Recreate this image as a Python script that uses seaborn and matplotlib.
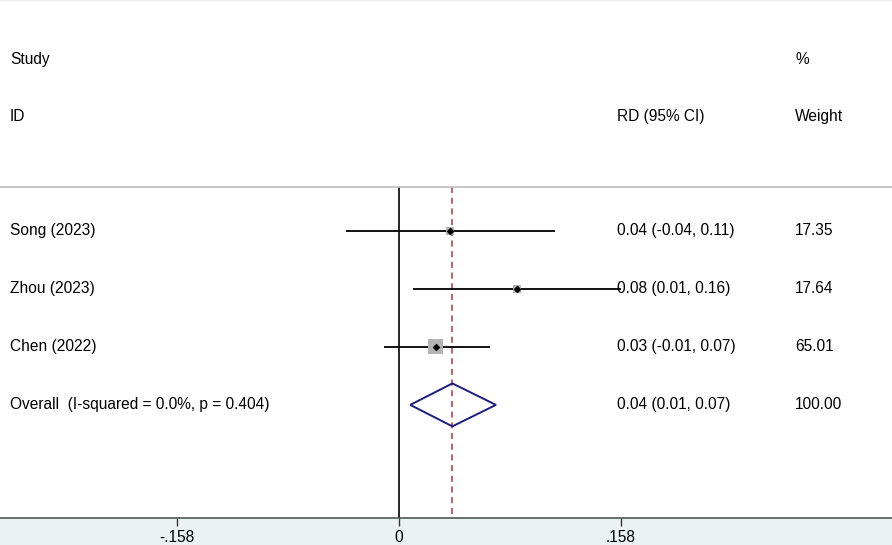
import numpy as np
import pandas as pd
import matplotlib
matplotlib.use('Agg')
import matplotlib.pyplot as plt
import seaborn as sns

# study level data
studies = ['Song (2023)', 'Zhou (2023)', 'Chen (2022)']
rd = [0.036, 0.084, 0.026]
ci_low = [-0.038, 0.010, -0.011]
ci_high = [0.111, 0.158, 0.065]
weights = [17.35, 17.64, 65.01]
rd_labels = ['0.04 (-0.04, 0.11)', '0.08 (0.01, 0.16)', '0.03 (-0.01, 0.07)']
weight_labels = ['17.35', '17.64', '65.01']

overall_label = 'Overall  (I-squared = 0.0%, p = 0.404)'
overall_rd = 0.038
overall_low = 0.008
overall_high = 0.069
overall_rd_label = '0.04 (0.01, 0.07)'
overall_weight_label = '100.00'

xticks = [-0.158, 0, 0.158]
xtick_labels = ['-.158', '0', '.158']

sns.set_theme(style='white')
plt.rcParams['font.family'] = ['Liberation Sans', 'DejaVu Sans']
plt.rcParams['text.color'] = 'black'
plt.rcParams['xtick.color'] = 'black'

df = pd.DataFrame({'study': studies, 'rd': rd, 'lo': ci_low, 'hi': ci_high,
                   'weight': weights, 'row': np.arange(1, len(studies) + 1)})

band = '#eaf2f3'
fig = plt.figure(figsize=(8.92, 5.45), dpi=100, facecolor=band)
ax = fig.add_axes([0, 27 / 545, 1, 518 / 545])
ax.set_facecolor('white')

px_per_unit = 222 / 0.158
ax.set_xlim(-399 / px_per_unit, (892 - 399) / px_per_unit)
ax.set_ylim(5.95, -2.98)

# confidence intervals
ax.hlines(df['row'], df['lo'], df['hi'], color='black', lw=1.3, zorder=2)

# weight boxes, area proportional to weight
smax = 120
sns.scatterplot(data=df, x='rd', y='row', size='weight',
                sizes=(smax * min(weights) / max(weights), smax),
                size_norm=(min(weights), max(weights)), marker='s', color='#b4b4b4', edgecolor='none',
                legend=False, ax=ax, zorder=3)
# point estimates
sns.scatterplot(data=df, x='rd', y='row', marker='D', s=12, color='black', edgecolor='black',
                linewidth=0.5, legend=False, ax=ax, zorder=4)

# overall diamond
orow = len(studies) + 1
half = 0.37
ax.fill([overall_low, overall_rd, overall_high, overall_rd, overall_low],
        [orow, orow - half, orow, orow + half, orow],
        facecolor='none', edgecolor='#1c1c80', lw=1.4, zorder=3)

# reference lines
sep = 0.24
ax.vlines(0, sep, 5.95, color='black', lw=1.2, zorder=1)
ax.vlines(overall_rd, sep, 5.95, color='#b0363f', lw=1.1, linestyles=(0, (4, 3)), zorder=1)
ax.axhline(sep, color='#bdbdbd', lw=1.2)
ax.axhline(-2.975, color='#eeeeee', lw=1)

# text columns
tr = ax.get_yaxis_transform()
fs = 11.2
ax.text(10 / 892, -1.95, 'Study', transform=tr, fontsize=fs, va='center')
ax.text(10 / 892, -0.97, 'ID', transform=tr, fontsize=fs, va='center')
ax.text(617 / 892, -0.97, 'RD (95% CI)', transform=tr, fontsize=fs, va='center')
ax.text(795 / 892, -1.95, '%', transform=tr, fontsize=fs, va='center')
ax.text(795 / 892, -0.97, 'Weight', transform=tr, fontsize=fs, va='center')

for r, name, lab, w in zip(df['row'], studies, rd_labels, weight_labels):
    ax.text(10 / 892, r, name, transform=tr, fontsize=fs, va='center')
    ax.text(617 / 892, r, lab, transform=tr, fontsize=fs, va='center')
    ax.text(795 / 892, r, w, transform=tr, fontsize=fs, va='center')
ax.text(10 / 892, orow, overall_label, transform=tr, fontsize=fs, va='center')
ax.text(617 / 892, orow, overall_rd_label, transform=tr, fontsize=fs, va='center')
ax.text(795 / 892, orow, overall_weight_label, transform=tr, fontsize=fs, va='center')

# axis
for s in ['top', 'left', 'right']:
    ax.spines[s].set_visible(False)
ax.spines['bottom'].set_color('#555555')
ax.spines['bottom'].set_linewidth(1.2)
ax.set_yticks([])
ax.set_xticks(xticks)
ax.set_xticklabels(xtick_labels, fontsize=fs)
ax.tick_params(axis='x', direction='out', length=6, width=1, color='#333333', pad=3, bottom=True)
ax.set_xlabel('')
ax.set_ylabel('')

fig.savefig('out.png', dpi=100, facecolor=band)
